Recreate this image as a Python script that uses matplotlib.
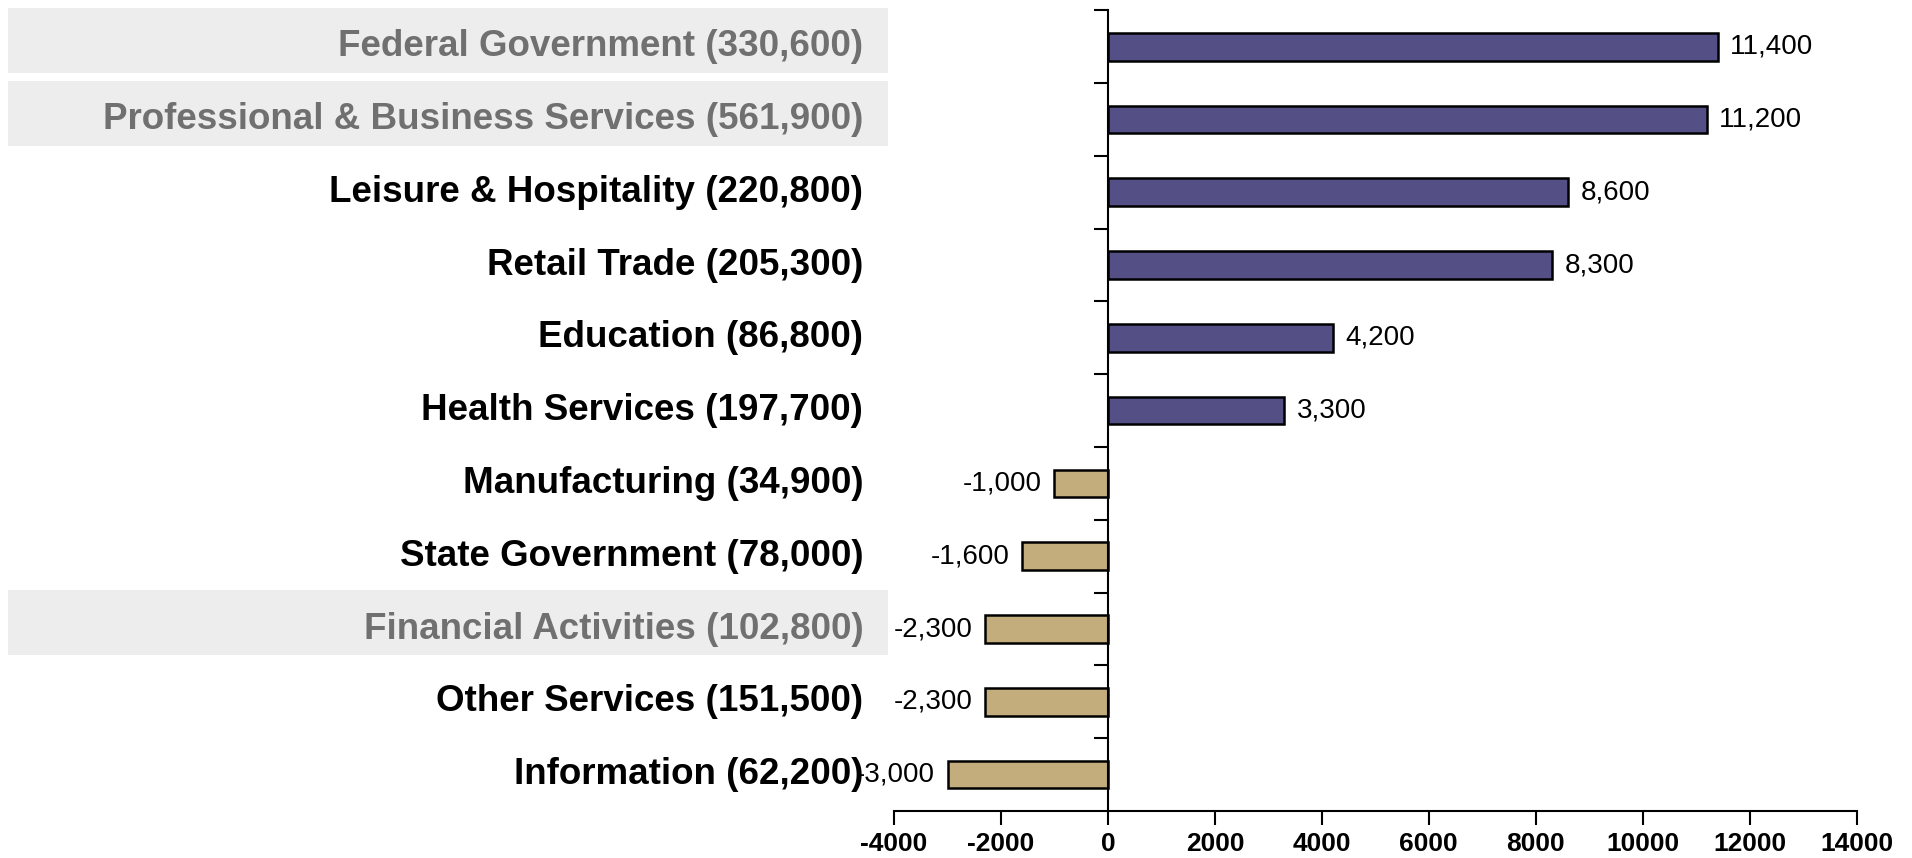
import matplotlib.pyplot as plt
import matplotlib.transforms as mtransforms
from matplotlib.patches import Rectangle

plt.rcParams['font.family'] = ['Liberation Sans', 'DejaVu Sans']

# Datos: cambio en empleo por sector (empleo total entre paréntesis)
sectores = ["Federal Government (330,600)", "Professional & Business Services (561,900)",
            "Leisure & Hospitality (220,800)", "Retail Trade (205,300)",
            "Education (86,800)", "Health Services (197,700)",
            "Manufacturing (34,900)", "State Government (78,000)",
            "Financial Activities (102,800)", "Other Services (151,500)",
            "Information (62,200)"]
cambios = [11400, 11200, 8600, 8300, 4200, 3300, -1000, -1600, -2300, -2300, -3000]
resaltados = ["Federal Government (330,600)", "Professional & Business Services (561,900)",
              "Financial Activities (102,800)"]
xticks = [-4000, -2000, 0, 2000, 4000, 6000, 8000, 10000, 12000, 14000]

fig = plt.figure(figsize=(19.12, 8.58), dpi=100)
ax = fig.add_axes([0.4676, 0.0548, 0.5034, 0.9332])

n = len(sectores)
pos = [n - 1 - i for i in range(n)]
colores = ['#545086' if v >= 0 else '#C4AD7C' for v in cambios]
ax.barh(pos, cambios, height=0.38, color=colores, edgecolor='black', linewidth=1.8)

ax.set_xlim(-4000, 14000)
ax.set_ylim(-0.5, n - 0.5)

# Ejes: el eje y pasa por el cero
ax.spines['left'].set_position(('data', 0))
ax.spines['right'].set_visible(False)
ax.spines['top'].set_visible(False)
ax.spines['left'].set_linewidth(1.5)
ax.spines['bottom'].set_linewidth(1.5)

ax.set_xticks(xticks)
ax.set_xticklabels([str(x) for x in xticks], fontsize=19, fontweight='bold')
ax.tick_params(axis='x', direction='out', length=10, width=1.5, pad=5)
ax.set_yticks([p + 0.5 for p in range(n)])
ax.set_yticklabels([])
ax.tick_params(axis='y', direction='out', length=10, width=1.5)

trans = mtransforms.blended_transform_factory(ax.transAxes, ax.transData)
trans_fig = mtransforms.blended_transform_factory(fig.transFigure, ax.transData)

for p, nombre, v in zip(pos, sectores, cambios):
    if nombre in resaltados:
        ax.add_patch(Rectangle((0.004, p - 0.36), 0.4605, 0.89, transform=trans_fig,
                               facecolor='#EDEDED', edgecolor='none', clip_on=False, zorder=0))
        color = '#707070'
    else:
        color = 'black'
    ax.text(-0.032, p, nombre, transform=trans, ha='right', va='center',
            fontsize=26.5, fontweight='bold', color=color)
    # Etiqueta del valor
    if v >= 0:
        ax.annotate(f"{v:,}", (v, p), xytext=(9, 0), textcoords='offset points',
                    ha='left', va='center', fontsize=20)
    else:
        ax.annotate(f"{v:,}", (v, p), xytext=(-9, 0), textcoords='offset points',
                    ha='right', va='center', fontsize=20)

fig.savefig('out.png', dpi=100)
